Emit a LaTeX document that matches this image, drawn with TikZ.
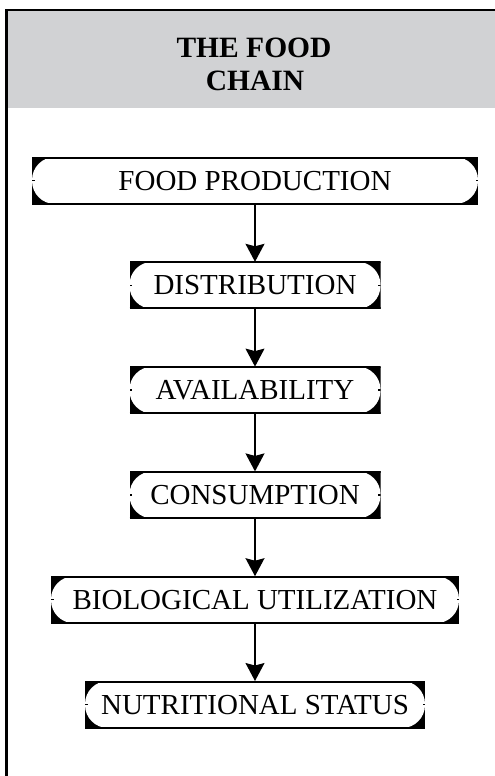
\documentclass[tikz,border=0pt]{standalone}
\usepackage{fontspec}
\setmainfont{Liberation Serif}
\usetikzlibrary{arrows.meta}
\definecolor{bandgrey}{HTML}{D1D2D4}
\newfontfamily\chainfont{Liberation Serif}
\tikzset{
  chainbox/.style={rectangle, minimum height=47pt, inner sep=0pt, outer sep=0pt,
    text depth=0pt, font=\chainfont\fontsize{29}{33}\selectfont,
    path picture={
      \fill[black] (path picture bounding box.south west) rectangle (path picture bounding box.north east);
      \fill[white, rounded corners=23pt] (path picture bounding box.south west) rectangle (path picture bounding box.north east);
      \draw[line width=3pt] (path picture bounding box.north west) -- (path picture bounding box.north east);
      \draw[line width=3pt] (path picture bounding box.south west) -- (path picture bounding box.south east);
      \fill[black] ([yshift=-0.7pt]path picture bounding box.west) rectangle ([xshift=2.5pt,yshift=0.7pt]path picture bounding box.west);
      \fill[black] ([yshift=-0.7pt]path picture bounding box.east) rectangle ([xshift=-2.5pt,yshift=0.7pt]path picture bounding box.east);
    }},
  link/.style={line width=1.3pt, -{Stealth[length=18pt,width=19pt,inset=2.5pt]}},
  titletext/.style={font=\bfseries\fontsize{29.5}{33}\selectfont, anchor=base, inner sep=0pt}
}
\begin{document}
\begin{tikzpicture}[x=1pt,y=-1pt]
  \useasboundingbox (0,0) rectangle (495,776);
  % title band and frame
  \fill[bandgrey] (7,10) rectangle (495,108);
  \draw[line width=2.6pt] (6.5,776) -- (6.5,10) -- (495,10);
  \node[titletext] (t1) at (254,57) {THE FOOD};
  \node[titletext] (t2) at (255,90) {CHAIN};
  % stages of the chain
  \node[chainbox, minimum width=446pt] (b1) at (255,180.5) {FOOD PRODUCTION};
  \node[chainbox, minimum width=251pt] (b2) at (255,285.3) {DISTRIBUTION};
  \node[chainbox, minimum width=251pt] (b3) at (255,390.1) {AVAILABILITY};
  \node[chainbox, minimum width=251pt] (b4) at (255,494.9) {CONSUMPTION};
  \node[chainbox, minimum width=408pt] (b5) at (255,599.7) {BIOLOGICAL UTILIZATION};
  \node[chainbox, minimum width=340pt] (b6) at (255,704.5) {NUTRITIONAL STATUS};
  % arrows between stages
  \draw[link] (b1) -- (b2);
  \draw[link] (b2) -- (b3);
  \draw[link] (b3) -- (b4);
  \draw[link] (b4) -- (b5);
  \draw[link] (b5) -- (b6);
\end{tikzpicture}
\end{document}
